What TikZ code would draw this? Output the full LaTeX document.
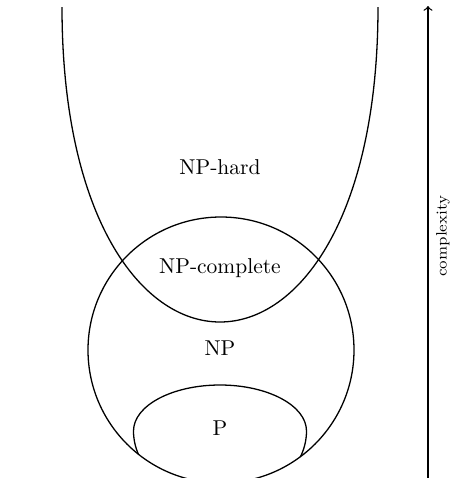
\documentclass[tikz,border=0pt]{standalone}
\begin{document}
\begin{tikzpicture}[x=0.465pt,y=-0.465pt,
  setline/.style={line width=0.6pt},
  setlabel/.style={inner sep=0pt}]
\useasboundingbox (0,0) rectangle (450,478);
% NP circle
\coordinate (npc) at (221,350);
\draw[setline] (npc) circle[radius=133];
% P region, clipped by NP circle
\begin{scope}
  \clip (npc) circle[radius=133];
  \coordinate (pl) at (133.5,431);
  \draw[setline] (pl) arc[start angle=180,end angle=360,x radius=86.5,y radius=46]
    arc[start angle=0,end angle=180,x radius=86.5,y radius=70];
\end{scope}
% NP-hard curve
\coordinate (hl) at (62,7);
\coordinate (hr) at (378,7);
\draw[setline] (hl) .. controls (62,427) and (378,427) .. (hr);
% labels
\node[setlabel] (nphard) at (220,167) {NP-hard};
\node[setlabel] (npcomp) at (220,268) {NP-complete};
\node[setlabel] (np) at (220,348) {NP};
\node[setlabel] (p) at (220,428) {P};
% complexity axis
\coordinate (ab) at (428,478);
\coordinate (at) at (428,6);
\draw[setline,->] (ab) -- (at);
\node[setlabel,rotate=90,font=\scriptsize] (cx) at (443,236) {complexity};
\end{tikzpicture}
\end{document}
